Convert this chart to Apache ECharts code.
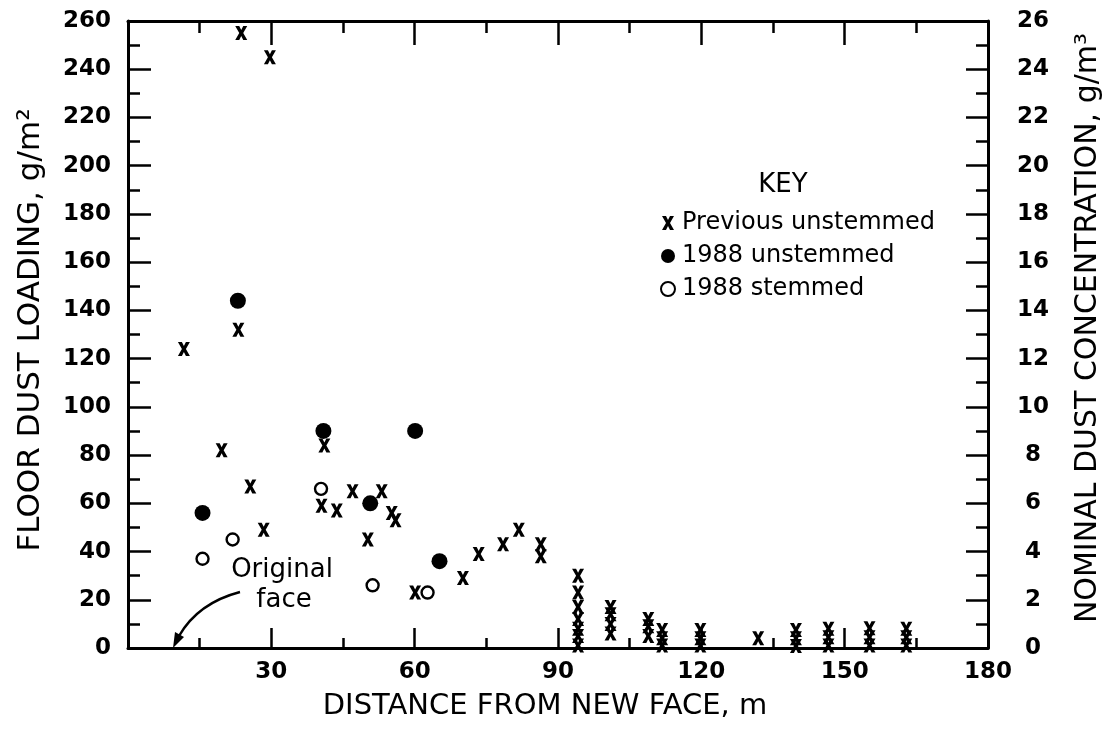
<!DOCTYPE html>
<html lang="en">
<head>
    <meta charset="UTF-8">
    <title>Floor dust loading vs distance</title>
    <script src="https://cdn.jsdelivr.net/npm/echarts@6/dist/echarts.min.js"></script>
    <style>
        * { margin: 0; padding: 0; }
        body { background: #fff; }
        #chart { width: 1110px; height: 734px; }
    </style>
</head>
<body>
    <div id="chart"></div>
    <script>
        // values: [distance m, floor dust g/m2]
        const previousUnstemmed = [
            [11.7, 124], [23.7, 255], [29.7, 245], [23.1, 132], [19.6, 82],
            [41.1, 84], [25.6, 67], [40.5, 59], [43.7, 57], [47.0, 65],
            [53.1, 65], [55.2, 56], [56.0, 53], [28.4, 49], [50.2, 45],
            [60.1, 23], [70.1, 29], [73.4, 39], [78.5, 43], [81.8, 49],
            [86.4, 43], [86.4, 38],
            [94.2, 30], [94.2, 23], [94.2, 17], [94.2, 12], [94.2, 8], [94.2, 5], [94.2, 1],
            [101, 17], [101, 14], [101, 10], [101, 6],
            [108.9, 12], [108.9, 9], [108.9, 5],
            [111.8, 7.5], [111.8, 4], [111.8, 1],
            [119.8, 7.5], [119.8, 4], [119.8, 1],
            [131.9, 4],
            [139.8, 7.5], [139.8, 4], [139.8, 0.8],
            [146.6, 8], [146.6, 4.5], [146.6, 1],
            [155.2, 8.2], [155.2, 4.5], [155.2, 1],
            [162.9, 8], [162.9, 4.5], [162.9, 1]
        ];
        const unstemmed1988 = [
            [15.6, 56], [23.0, 144], [40.9, 90], [60.1, 90], [50.7, 60], [65.2, 36]
        ];
        const stemmed1988 = [
            [15.6, 37], [21.9, 45], [40.4, 66], [51.2, 26], [62.7, 23]
        ];
        const seriesNames = ['Previous unstemmed', '1988 unstemmed', '1988 stemmed'];

        const FONT = 'DejaVu Sans';
        const crossSymbol = 'path://M0,0H4L6,4L8,0H12L8,7L12,14H8L6,10L4,14H0L4,7Z';

        const axisLine = { show: true, onZero: false, lineStyle: { color: '#000', width: 3 } };
        const tickLabel = { color: '#000', fontFamily: FONT, fontWeight: 'bold', fontSize: 23 };

        const chart = echarts.init(document.getElementById('chart'));
        chart.setOption({
            animation: false,
            backgroundColor: '#fff',
            grid: { left: 128, top: 21, width: 860, height: 627 },
            legend: {
                data: seriesNames,
                orient: 'vertical',
                left: 655,
                top: 206,
                itemWidth: 14,
                itemHeight: 14,
                itemGap: 9,
                textStyle: { color: '#000', fontFamily: FONT, fontSize: 24, padding: [0, 0, 0, 2] }
            },
            xAxis: [{
                type: 'value', position: 'bottom', min: 0, max: 180, interval: 30,
                axisLine: axisLine,
                axisTick: { inside: true, length: 20, lineStyle: { color: '#000', width: 2.5 } },
                minorTick: { show: true, splitNumber: 2, length: 10, lineStyle: { color: '#000', width: 2.5 } },
                axisLabel: Object.assign({ margin: 13, showMinLabel: false }, tickLabel),
                splitLine: { show: false }
            }, {
                type: 'value', position: 'top', min: 0, max: 180, interval: 30,
                axisLine: axisLine,
                axisTick: { inside: true, length: 24, lineStyle: { color: '#000', width: 2.5 } },
                minorTick: { show: true, splitNumber: 2, length: 12, lineStyle: { color: '#000', width: 2.5 } },
                axisLabel: { show: false },
                splitLine: { show: false }
            }],
            yAxis: [{
                type: 'value', position: 'left', min: 0, max: 260, interval: 20,
                axisLine: axisLine,
                axisTick: { inside: true, length: 23, lineStyle: { color: '#000', width: 2.5 } },
                minorTick: { show: true, splitNumber: 2, length: 12, lineStyle: { color: '#000', width: 2.5 } },
                axisLabel: Object.assign({ margin: 17 }, tickLabel),
                splitLine: { show: false }
            }, {
                type: 'value', position: 'right', min: 0, max: 26, interval: 2,
                axisLine: axisLine,
                axisTick: { inside: true, length: 22, lineStyle: { color: '#000', width: 2.5 } },
                minorTick: { show: true, splitNumber: 2, length: 12, lineStyle: { color: '#000', width: 2.5 } },
                axisLabel: Object.assign({ margin: 45, align: 'center' }, tickLabel),
                splitLine: { show: false }
            }],
            series: [{
                name: seriesNames[0], type: 'scatter', data: previousUnstemmed,
                symbol: crossSymbol, symbolSize: [12, 14],
                itemStyle: { color: '#000', opacity: 1 }
            }, {
                name: seriesNames[1], type: 'scatter', data: unstemmed1988,
                symbol: 'circle', symbolSize: 16,
                itemStyle: { color: '#000', opacity: 1 }
            }, {
                name: seriesNames[2], type: 'scatter', data: stemmed1988,
                symbol: 'circle', symbolSize: 12,
                itemStyle: { color: '#fff', borderColor: '#000', borderWidth: 2.4, opacity: 1 }
            }],
            graphic: [
                // axis titles
                { type: 'text', x: 545, y: 706,
                  style: { text: 'DISTANCE FROM NEW FACE, m', font: '29px "DejaVu Sans"', fill: '#000', align: 'center', verticalAlign: 'middle' } },
                { type: 'text', x: 31, y: 330, rotation: Math.PI / 2,
                  style: { text: 'FLOOR DUST LOADING, g/m²', font: '31px "DejaVu Sans"', fill: '#000', align: 'center', verticalAlign: 'middle' } },
                { type: 'text', x: 1088, y: 328, rotation: Math.PI / 2,
                  style: { text: 'NOMINAL DUST CONCENTRATION, g/m³', font: '30px "DejaVu Sans"', fill: '#000', align: 'center', verticalAlign: 'middle' } },
                // key heading
                { type: 'text', x: 783, y: 185,
                  style: { text: 'KEY', font: '26px "DejaVu Sans"', fill: '#000', align: 'center', verticalAlign: 'middle' } },
                // original face note + arrow
                { type: 'text', x: 282, y: 570,
                  style: { text: 'Original', font: '26px "DejaVu Sans"', fill: '#000', align: 'center', verticalAlign: 'middle' } },
                { type: 'text', x: 284, y: 600,
                  style: { text: 'face', font: '26px "DejaVu Sans"', fill: '#000', align: 'center', verticalAlign: 'middle' } },
                { type: 'bezierCurve',
                  shape: { x1: 240, y1: 592, cpx1: 198, cpy1: 603, x2: 179, y2: 636 },
                  style: { stroke: '#000', lineWidth: 2.5, fill: null } },
                { type: 'polygon',
                  shape: { points: [[173, 648], [184, 637], [175, 632]] },
                  style: { fill: '#000' } }
            ]
        });
    </script>
</body>
</html>
